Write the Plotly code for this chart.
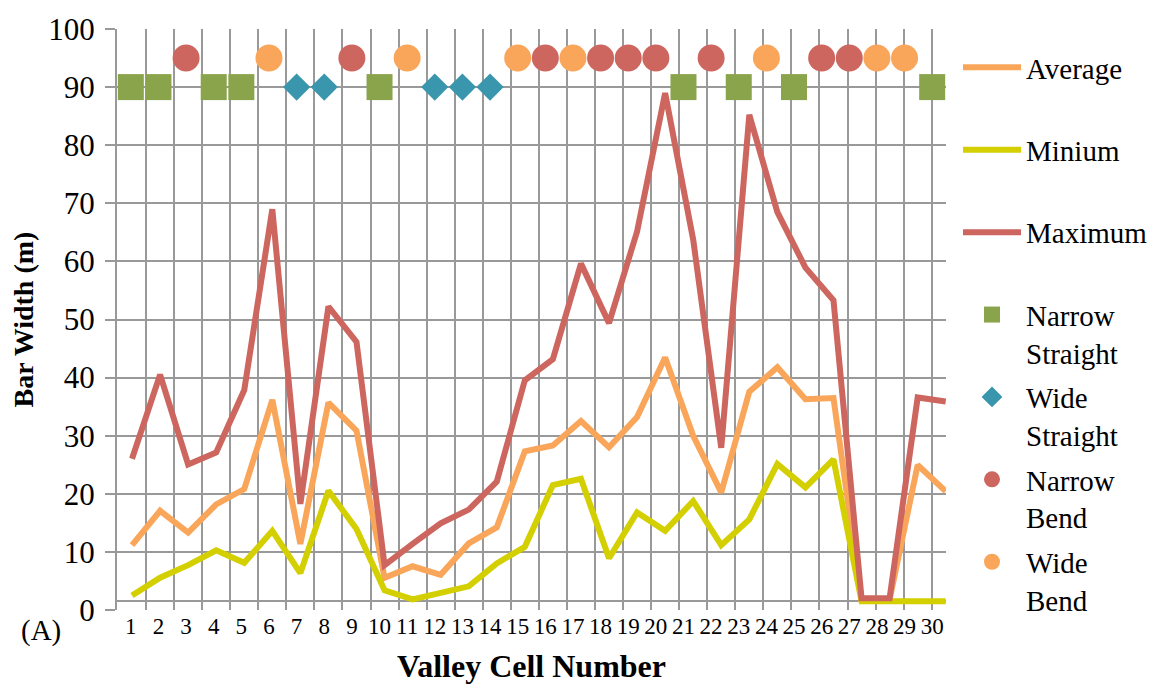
import plotly.graph_objects as go

# ---------------- data ----------------
cells = list(range(1, 31))
cell_labels = [str(c) for c in cells]

avg_width = [9.8, 15.8, 12.0, 16.9, 19.6, 35.2, 10.0, 34.7, 29.8, 4.1,
             6.1, 4.6, 10.1, 12.9, 26.2, 27.2, 31.5, 26.9, 32.2, 42.6,
             28.9, 19.0, 36.6, 40.9, 35.3, 35.5, 0.3, 0.3, 23.8, 19.2]
min_width = [1.0, 4.1, 6.3, 8.9, 6.7, 12.3, 4.9, 19.3, 12.6, 1.9,
             0.3, 1.5, 2.6, 6.6, 9.5, 20.3, 21.4, 7.5, 15.5, 12.3,
             17.5, 9.8, 14.3, 24.0, 19.9, 24.8, 0.0, 0.0, 0.0, 0.0]
max_width = [24.9, 39.6, 23.9, 26.0, 36.9, 68.5, 17.0, 51.5, 45.3, 6.3,
             10.0, 13.6, 16.0, 20.9, 38.6, 42.3, 59.0, 48.6, 64.6, 88.8,
             63.2, 26.8, 85.0, 68.0, 58.3, 52.6, 0.5, 0.5, 35.6, 34.9]

narrow_straight = [1, 2, 4, 5, 10, 21, 23, 25, 30]
wide_straight = [7, 8, 12, 13, 14]
narrow_bend = [3, 9, 16, 18, 19, 20, 22, 26, 27]
wide_bend = [6, 11, 15, 17, 24, 28, 29]
straight_level = 90
bend_level = 95

y_ticks = list(range(0, 101, 10))
grid_bounds = [c - 0.5 for c in cells] + [30.5]

# ---------------- style ----------------
FONT = "Liberation Serif"
GRID = "#999999"
C_MAX = "#CD665F"
C_AVG = "#F9A65A"
C_MIN = "#D3CF00"
C_NS = "#89A44A"
C_WS = "#3A96AC"

fig = go.Figure()

line_specs = [
    ("Average<br> ", avg_width, C_AVG),
    ("Minium<br> ", min_width, C_MIN),
    ("Maximum<br> ", max_width, C_MAX),
]
for i, (name, vals, col) in enumerate(line_specs):
    fig.add_trace(go.Scatter(
        x=cells, y=vals, name=name, mode="lines",
        line=dict(color=col, width=6),
        xaxis="x2", yaxis="y2", legendgroup=f"g{i}",
    ))

marker_specs = [
    ("Narrow<br>Straight", narrow_straight, straight_level, "square", 26, C_NS),
    ("Wide<br>Straight", wide_straight, straight_level, "diamond", 21, C_WS),
    ("Narrow<br>Bend", narrow_bend, bend_level, "circle", 27, C_MAX),
    ("Wide<br>Bend", wide_bend, bend_level, "circle", 27, C_AVG),
]
for j, (name, xs, lvl, sym, sz, col) in enumerate(marker_specs):
    fig.add_trace(go.Scatter(
        x=xs, y=[lvl] * len(xs), name=name, mode="markers",
        marker=dict(symbol=sym, size=sz, color=col, line=dict(width=0)),
        xaxis="x", yaxis="y", legendgroup=f"m{j}",
    ))

fig.update_layout(
    width=1158, height=689,
    margin=dict(l=117, r=201, t=18, b=78),
    paper_bgcolor="white", plot_bgcolor="white",
    font=dict(family=FONT, color="black"),
    showlegend=True,
    legend=dict(
        xref="container", yref="container",
        x=958 / 1158, y=1 - 42 / 689, xanchor="left", yanchor="top",
        font=dict(family=FONT, size=29, color="black"),
        valign="top", tracegroupgap=4, itemwidth=58,
        bgcolor="rgba(0,0,0,0)", maxheight=1.0,
    ),
    xaxis=dict(
        range=[0.5, 30.5], tickmode="array", tickvals=cells, ticktext=cell_labels,
        showgrid=False, zeroline=False, showline=False, ticks="",
        tickfont=dict(family=FONT, size=23, color="black"),
        title=dict(text="Valley Cell Number", standoff=16,
                   font=dict(family=FONT, size=32, weight="bold", color="black")),
    ),
    xaxis2=dict(
        overlaying="x", range=[0.4648, 30.01],
        tickmode="array", tickvals=grid_bounds,
        showticklabels=False, ticks="", showgrid=True,
        gridcolor=GRID, gridwidth=2, zeroline=False, showline=False,
    ),
    yaxis=dict(
        range=[0, 100], tickmode="array", tickvals=y_ticks,
        showgrid=True, gridcolor=GRID, gridwidth=2, zeroline=False,
        showline=True, linecolor=GRID, linewidth=2,
        ticks="outside", ticklen=10, tickwidth=2, tickcolor=GRID,
        ticklabelstandoff=4,
        tickfont=dict(family=FONT, size=31, color="black"),
        title=dict(text="Bar Width (m)", standoff=6,
                   font=dict(family=FONT, size=28, weight="bold", color="black")),
    ),
    yaxis2=dict(
        overlaying="y", range=[-1.54, 100],
        showgrid=False, showticklabels=False, ticks="",
        zeroline=True, zerolinecolor=GRID, zerolinewidth=2, showline=False,
    ),
    annotations=[dict(
        text="(A)", xref="paper", yref="paper", x=-0.092, y=-0.035,
        xanchor="center", yanchor="middle", showarrow=False,
        font=dict(family=FONT, size=29, color="black"),
    )],
)

fig.write_html("out.html")
